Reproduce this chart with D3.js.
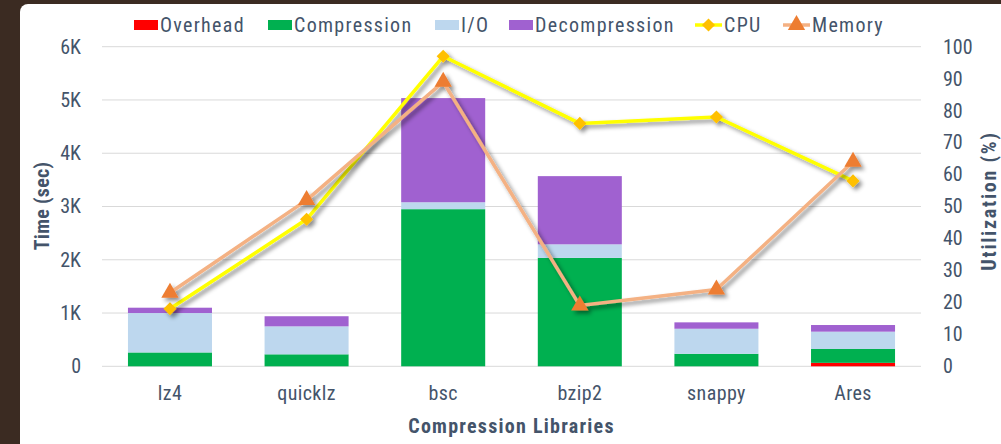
<!DOCTYPE html>
<html>
<head>
<meta charset="utf-8">
<script src="https://cdn.jsdelivr.net/npm/d3@7"></script>
<style>
  html, body { margin: 0; padding: 0; background: #3b2b22; }
  svg { display: block; }
  text { font-family: "Roboto Condensed", Roboto, "Liberation Sans", sans-serif; }
</style>
</head>
<body>
<svg id="chart" width="1001" height="444"></svg>
<script>
// Compression benchmark: stacked time components plus CPU / memory utilization
const libraries = ["lz4", "quicklz", "bsc", "bzip2", "snappy", "Ares"];
const overhead      = [0, 0, 0, 0, 0, 65];
const compression   = [260, 225, 2950, 2035, 235, 260];
const io            = [740, 525, 130, 255, 470, 325];
const decompression = [100, 190, 1955, 1280, 120, 125];
const cpu    = [18, 46, 97, 76, 78, 58];
const memory = [23, 52, 89, 19, 24, 64];
const timeTicks = [0, 1000, 2000, 3000, 4000, 5000, 6000];
const utilTicks = [0, 10, 20, 30, 40, 50, 60, 70, 80, 90, 100];

const stackKeys = ["Overhead", "Compression", "I/O", "Decompression"];
const stackColors = ["#ff0000", "#00b050", "#bdd7ee", "#a061d0"];
const textColor = "#44546a";

const svg = d3.select("#chart");

// white card on dark background
svg.append("rect").attr("x", 20).attr("y", 4).attr("width", 1000).attr("height", 460)
  .attr("rx", 8).attr("fill", "#ffffff");

const defs = svg.append("defs");
const shadow = defs.append("filter").attr("id", "lineShadow")
  .attr("x", "-10%").attr("y", "-10%").attr("width", "130%").attr("height", "130%");
shadow.append("feDropShadow").attr("dx", 3).attr("dy", 3).attr("stdDeviation", 2)
  .attr("flood-color", "#000").attr("flood-opacity", 0.45);

const plot = { left: 102, right: 921, top: 46.7, bottom: 366.3 };

const x = d3.scaleBand().domain(libraries).range([plot.left, plot.right])
  .paddingInner(0.385).paddingOuter(0.19);
const yTime = d3.scaleLinear().domain([0, 6000]).range([plot.bottom, plot.top]);
const yUtil = d3.scaleLinear().domain([0, 100]).range([plot.bottom, plot.top]);

// gridlines
svg.append("g").selectAll("line").data(timeTicks).join("line")
  .attr("x1", plot.left).attr("x2", plot.right)
  .attr("y1", d => yTime(d)).attr("y2", d => yTime(d))
  .attr("stroke", "#d9d9d9").attr("stroke-width", 1);

// left axis
const leftAxis = svg.append("g").attr("transform", `translate(${plot.left},0)`)
  .call(d3.axisLeft(yTime).tickValues(timeTicks)
    .tickFormat(d => d === 0 ? "0" : (d / 1000) + "K").tickSize(0).tickPadding(21));
leftAxis.select(".domain").remove();
leftAxis.selectAll("text").attr("fill", textColor).attr("font-size", 20);

// right axis
const rightAxis = svg.append("g").attr("transform", `translate(${plot.right},0)`)
  .call(d3.axisRight(yUtil).tickValues(utilTicks).tickSize(0).tickPadding(22));
rightAxis.select(".domain").remove();
rightAxis.selectAll("text").attr("fill", textColor).attr("font-size", 20);

// bottom axis
const bottomAxis = svg.append("g").attr("transform", `translate(0,${plot.bottom})`)
  .call(d3.axisBottom(x).tickSize(0).tickPadding(20));
bottomAxis.select(".domain").remove();
bottomAxis.selectAll("text").attr("fill", textColor).attr("font-size", 20)
  .attr("letter-spacing", "0.4px");

// axis titles
svg.append("text").attr("transform", `translate(49,206) rotate(-90)`)
  .attr("text-anchor", "middle").attr("fill", textColor)
  .attr("font-size", 20).attr("font-weight", "bold").attr("letter-spacing", "0.3px")
  .text("Time (sec)");
svg.append("text").attr("transform", `translate(996,201) rotate(-90)`)
  .attr("text-anchor", "middle").attr("fill", textColor)
  .attr("font-size", 20).attr("font-weight", "bold").attr("letter-spacing", "1.8px")
  .text("Utilization (%)");
svg.append("text").attr("x", (plot.left + plot.right) / 2).attr("y", 433)
  .attr("text-anchor", "middle").attr("fill", textColor)
  .attr("font-size", 20).attr("font-weight", "bold").attr("letter-spacing", "1.25px")
  .text("Compression Libraries");

// stacked bars
const rows = libraries.map((lib, i) => ({
  lib,
  "Overhead": overhead[i],
  "Compression": compression[i],
  "I/O": io[i],
  "Decompression": decompression[i]
}));
const stacked = d3.stack().keys(stackKeys)(rows);
svg.append("g").selectAll("g").data(stacked).join("g")
  .attr("fill", (d, i) => stackColors[i])
  .selectAll("rect").data(d => d).join("rect")
  .attr("x", d => x(d.data.lib))
  .attr("width", x.bandwidth())
  .attr("y", d => yTime(d[1]))
  .attr("height", d => Math.max(0, yTime(d[0]) - yTime(d[1])));

// utilization lines
const cx = d => x(d) + x.bandwidth() / 2;
const cpuPts = libraries.map((l, i) => [cx(l), yUtil(cpu[i])]);
const memPts = libraries.map((l, i) => [cx(l), yUtil(memory[i])]);
const lineGen = d3.line();

const diamond = d3.symbol().type(d3.symbolDiamond2).size(110);
const triangle = d3.symbol().type(d3.symbolTriangle).size(130);

const cpuG = svg.append("g").attr("filter", "url(#lineShadow)");
cpuG.append("path").attr("d", lineGen(cpuPts)).attr("fill", "none")
  .attr("stroke", "#ffff00").attr("stroke-width", 3.5).attr("stroke-linejoin", "round");
cpuG.selectAll("path.m").data(cpuPts).join("path").attr("class", "m")
  .attr("transform", d => `translate(${d[0]},${d[1]})`)
  .attr("d", diamond()).attr("fill", "#ffc000");

const memG = svg.append("g").attr("filter", "url(#lineShadow)");
memG.append("path").attr("d", lineGen(memPts)).attr("fill", "none")
  .attr("stroke", "#f4b183").attr("stroke-width", 3.5).attr("stroke-linejoin", "round");
memG.selectAll("path.m").data(memPts).join("path").attr("class", "m")
  .attr("transform", d => `translate(${d[0]},${d[1]})`)
  .attr("d", triangle()).attr("fill", "#ed7d31");

// legend
const legend = svg.append("g");
const legendItems = [
  { label: "Overhead", kind: "box", color: stackColors[0], x: 134 },
  { label: "Compression", kind: "box", color: stackColors[1], x: 268 },
  { label: "I/O", kind: "box", color: stackColors[2], x: 435 },
  { label: "Decompression", kind: "box", color: stackColors[3], x: 509 },
  { label: "CPU", kind: "cpu", x: 695 },
  { label: "Memory", kind: "mem", x: 783 }
];
legendItems.forEach(it => {
  const g = legend.append("g").attr("transform", `translate(${it.x},25)`);
  let textX;
  if (it.kind === "box") {
    g.append("rect").attr("x", 0).attr("y", -5).attr("width", 24).attr("height", 10).attr("fill", it.color);
    textX = 26;
  } else {
    const lc = it.kind === "cpu" ? "#ffff00" : "#f4b183";
    g.append("line").attr("x1", 0).attr("x2", 27).attr("y1", 0).attr("y2", 0)
      .attr("stroke", lc).attr("stroke-width", 3.5);
    g.append("path").attr("transform", "translate(13.5,0)")
      .attr("d", it.kind === "cpu" ? diamond() : triangle())
      .attr("fill", it.kind === "cpu" ? "#ffc000" : "#ed7d31");
    textX = 29;
  }
  g.append("text").attr("x", textX).attr("y", 0).attr("dy", "0.35em")
    .attr("fill", textColor).attr("font-size", 20).attr("letter-spacing", "1.3px")
    .text(it.label);
});
</script>
</body>
</html>
